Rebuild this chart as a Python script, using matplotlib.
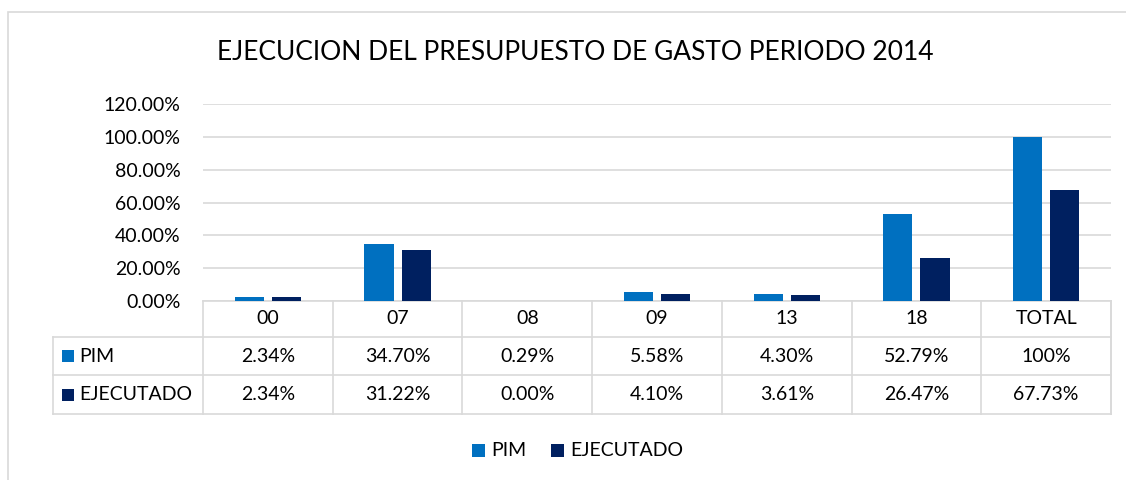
import matplotlib.pyplot as plt
import matplotlib.transforms as mtransforms
from matplotlib.patches import Rectangle
import numpy as np

plt.rcParams['font.family'] = ['Lato', 'DejaVu Sans']

categories = ['00', '07', '08', '09', '13', '18', 'TOTAL']
pim = [2.34, 34.70, 0.29, 5.58, 4.30, 52.79, 100.0]
ejecutado = [2.34, 31.22, 0.00, 4.10, 3.61, 26.47, 67.73]
pim_labels = ['2.34%', '34.70%', '0.29%', '5.58%', '4.30%', '52.79%', '100%']
eje_labels = ['2.34%', '31.22%', '0.00%', '4.10%', '3.61%', '26.47%', '67.73%']
series_names = ['PIM', 'EJECUTADO']
colors = ['#0070C0', '#002060']
title = 'EJECUCION DEL PRESUPUESTO DE GASTO PERIODO 2014'

W, H = 1126, 480
fig = plt.figure(figsize=(W / 100, H / 100), dpi=100)

# outer chart border (runs off the right/bottom edge)
fig.patches.append(Rectangle((8 / W, -0.05), 1.1, 1 - 12 / H + 0.05, transform=fig.transFigure,
                             facecolor='none', edgecolor='#d9d9d9', linewidth=1.2))

# plot area in pixels
left, right, top, bottom = 203, 1111, 104, 301
ax = fig.add_axes([left / W, 1 - bottom / H, (right - left) / W, (bottom - top) / H])

x = np.arange(len(categories))
w = 0.224
gap = 0.062
ax.bar(x - (w + gap) / 2, pim, w, color=colors[0], zorder=3)
ax.bar(x + (w + gap) / 2, ejecutado, w, color=colors[1], zorder=3)

fs = 14

ax.set_xlim(-0.5, len(categories) - 0.5)
ax.set_ylim(0, 120)
ax.set_yticks(np.arange(0, 121, 20))
ax.set_yticklabels(['%.2f%%' % v for v in np.arange(0, 121, 20)], fontsize=fs)
ax.tick_params(axis='y', length=0, pad=16)
ax.set_xticks([])
ax.grid(axis='y', color='#d9d9d9', linewidth=1.2, zorder=0)
for s in ax.spines.values():
    s.set_visible(False)

# data table below the plot
tr = mtransforms.blended_transform_factory(ax.transData, fig.transFigure)
lc = '#d9d9d9'
ys = [1 - v / H for v in (301, 337, 375, 414)]
xl = -0.5 - (left - 53) / ((right - left) / len(categories))
xr = len(categories) - 0.5
lkw = dict(color=lc, linewidth=1.2, transform=tr, clip_on=False)

ax.plot([-0.5, xr], [ys[0], ys[0]], **lkw)
for yy in ys[1:]:
    ax.plot([xl, xr], [yy, yy], **lkw)
for i in range(len(categories) + 1):
    ax.plot([i - 0.5, i - 0.5], [ys[0], ys[3]], **lkw)
ax.plot([xl, xl], [ys[1], ys[3]], **lkw)
ax.plot([xr, xr], [ys[0], ys[3]], **lkw)

for i, c in enumerate(categories):
    ax.text(i, (ys[0] + ys[1]) / 2, c, transform=tr, ha='center', va='center', fontsize=fs)
    ax.text(i, (ys[1] + ys[2]) / 2, pim_labels[i], transform=tr, ha='center', va='center', fontsize=fs)
    ax.text(i, (ys[2] + ys[3]) / 2, eje_labels[i], transform=tr, ha='center', va='center', fontsize=fs)

for r, name in enumerate(series_names):
    yc = (ys[r + 1] + ys[r + 2]) / 2
    fig.patches.append(Rectangle((62 / W, yc - 6 / H), 12 / W, 12 / H, transform=fig.transFigure,
                                 facecolor=colors[r], edgecolor='none'))
    fig.text(79 / W, yc, name, ha='left', va='center', fontsize=fs)

# legend at the bottom
ly = 1 - 451 / H
fig.patches.append(Rectangle((472 / W, ly - 6 / H), 13 / W, 13 / H, transform=fig.transFigure,
                             facecolor=colors[0], edgecolor='none'))
fig.text(491 / W, ly, series_names[0], ha='left', va='center', fontsize=fs)
fig.patches.append(Rectangle((551 / W, ly - 6 / H), 13 / W, 13 / H, transform=fig.transFigure,
                             facecolor=colors[1], edgecolor='none'))
fig.text(570 / W, ly, series_names[1], ha='left', va='center', fontsize=fs)

fig.text(575 / W, 1 - 52 / H, title, ha='center', va='center', fontsize=19)

fig.savefig('out.png', dpi=100)
